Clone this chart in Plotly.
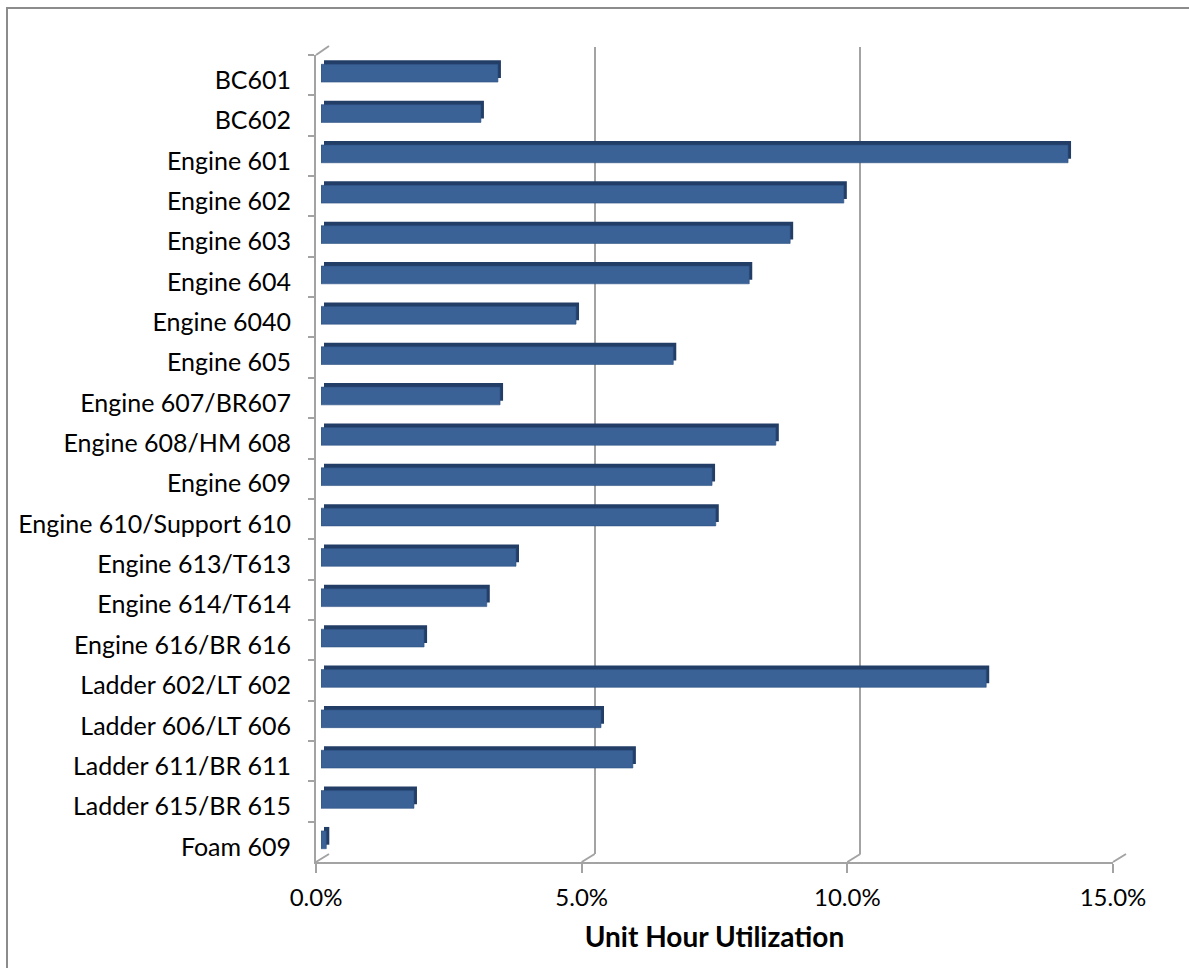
import plotly.graph_objects as go

# Unit hour utilization per apparatus
units = [
    "BC601", "BC602", "Engine 601", "Engine 602", "Engine 603", "Engine 604",
    "Engine 6040", "Engine 605", "Engine 607/BR607", "Engine 608/HM 608",
    "Engine 609", "Engine 610/Support 610", "Engine 613/T613", "Engine 614/T614",
    "Engine 616/BR 616", "Ladder 602/LT 602", "Ladder 606/LT 606",
    "Ladder 611/BR 611", "Ladder 615/BR 615", "Foam 609",
]
utilization = [
    0.0333, 0.0301, 0.1406, 0.0984, 0.0883, 0.0806,
    0.0480, 0.0663, 0.0337, 0.0856,
    0.0736, 0.0743, 0.0367, 0.0312,
    0.0194, 0.1252, 0.0527,
    0.0587, 0.0175, 0.0010,
]
x_ticks = [0.0, 0.05, 0.10, 0.15]
x_max = 0.15

W, H = 1189, 968
L, R, T, B = 316, 62, 46, 106
PW, PH = W - L - R, H - T - B          # plot area in pixels
FRONT_W, FRONT_H = 797, 807           # front plane size
DEPTH_X, DEPTH_Y = 13, 8              # perspective offset of the back wall

GRID = "#A3A3A3"
BAR = "#3A6297"
BAR_DARK = "#223D66"
FONT = "Lato"


def dom(off, size, total):
    return [off / total, (off + size) / total]


def front_x(v):
    return v / x_max * FRONT_W / PW


def back_x(v):
    return (DEPTH_X + v / x_max * FRONT_W) / PW


fig = go.Figure()

# back wall carries the vertical gridlines
fig.add_trace(go.Scatter(x=[0], y=[units[0]], xaxis="x2", yaxis="y2",
                         mode="markers", marker=dict(opacity=0),
                         hoverinfo="skip", showlegend=False))
# darker extrusion behind each bar (top and end faces)
fig.add_trace(go.Bar(x=utilization, y=units, orientation="h",
                     xaxis="x3", yaxis="y3", marker=dict(color=BAR_DARK, line=dict(width=0)),
                     hoverinfo="skip", showlegend=False))
# front faces of the bars
fig.add_trace(go.Bar(x=utilization, y=units, orientation="h",
                     xaxis="x4", yaxis="y4",
                     marker=dict(color=BAR, line=dict(color="#2E5182", width=0.6)),
                     showlegend=False))
# front axes with tick labels
fig.add_trace(go.Scatter(x=[0], y=[units[0]], mode="markers",
                         marker=dict(opacity=0), hoverinfo="skip", showlegend=False))

cat_range = [len(units) - 0.5, -0.5]
hidden = dict(showticklabels=False, ticks="", showline=False, zeroline=False,
              fixedrange=True)

fig.update_layout(
    width=W, height=H,
    margin=dict(l=L, r=R, t=T, b=B),
    paper_bgcolor="white",
    plot_bgcolor="rgba(0,0,0,0)",
    bargap=0.56,
    font=dict(family=FONT, size=25, color="#000000"),
    xaxis=dict(domain=dom(0, FRONT_W, PW), range=[0, x_max], tickvals=x_ticks,
               tickformat=".1%", showgrid=False, zeroline=False,
               showline=True, linecolor=GRID, linewidth=2,
               ticks="outside", ticklen=9, tickwidth=2, tickcolor=GRID,
               ticklabelstandoff=4, tickfont=dict(size=24),
               title=dict(text="<b>Unit Hour Utilization</b>",
                          font=dict(family=FONT, size=28), standoff=18),
               anchor="y"),
    yaxis=dict(domain=dom(0, FRONT_H, PH), type="category", range=cat_range,
               categoryorder="array", categoryarray=units,
               showgrid=False, zeroline=False,
               showline=True, linecolor=GRID, linewidth=2,
               ticks="outside", tickson="boundaries", ticklen=6, tickwidth=1.5,
               tickcolor=GRID, ticklabelstandoff=18, ticklabelshift=-5, anchor="x"),
    xaxis2=dict(domain=dom(DEPTH_X, FRONT_W, PW), range=[0, x_max], tickvals=x_ticks,
                showgrid=True, gridcolor=GRID, gridwidth=2, anchor="y2", **hidden),
    yaxis2=dict(domain=dom(DEPTH_Y, FRONT_H, PH), type="category", range=cat_range,
                categoryorder="array", categoryarray=units, showgrid=False,
                anchor="x2", **hidden),
    xaxis3=dict(domain=dom(8, FRONT_W, PW), range=[0, x_max], showgrid=False,
                anchor="y3", **hidden),
    yaxis3=dict(domain=dom(6, FRONT_H, PH), type="category", range=cat_range,
                categoryorder="array", categoryarray=units, showgrid=False,
                anchor="x3", **hidden),
    xaxis4=dict(domain=dom(5, FRONT_W, PW), range=[0, x_max], showgrid=False,
                anchor="y4", **hidden),
    yaxis4=dict(domain=dom(2, FRONT_H, PH), type="category", range=cat_range,
                categoryorder="array", categoryarray=units, showgrid=False,
                anchor="x4", **hidden),
)

shapes = []
line = dict(color=GRID, width=2)
floor_y0 = 0
floor_y1 = DEPTH_Y / PH
# floor slants joining each front tick to its back-wall gridline
for v in x_ticks:
    shapes.append(dict(type="line", xref="paper", yref="paper",
                       x0=front_x(v), y0=floor_y0, x1=back_x(v), y1=floor_y1,
                       line=line, layer="below"))
# top slant of the left wall
top_front = FRONT_H / PH
shapes.append(dict(type="line", xref="paper", yref="paper",
                   x0=front_x(0), y0=top_front, x1=back_x(0), y1=1,
                   line=line, layer="below"))
# chart area border
shapes.append(dict(type="rect", xref="paper", yref="paper",
                   x0=(7 - L) / PW, y0=(H - B - 1000) / PH,
                   x1=(1400 - L) / PW, y1=(H - B - 8) / PH,
                   line=dict(color="#8C8C8C", width=2), fillcolor="rgba(0,0,0,0)",
                   layer="below"))
fig.update_layout(shapes=shapes)

fig.write_html("out.html")
